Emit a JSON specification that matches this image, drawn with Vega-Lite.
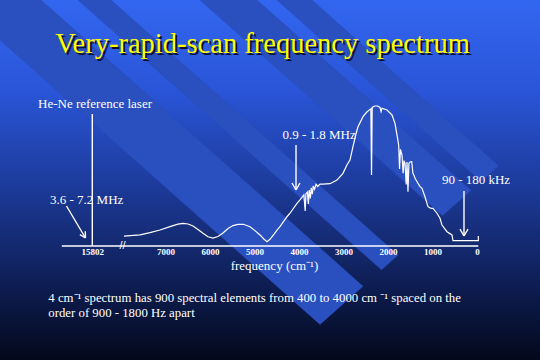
{
  "$schema": "https://vega.github.io/schema/vega-lite/v6.json",
  "width": 540,
  "height": 360,
  "autosize": "none",
  "padding": 0,
  "background": "#10205a",
  "config": {"view": {"stroke": null}},
  "datasets": {
    "spectrum": [
      {"i":0,"f":7933,"I":0.071},{"i":1,"f":7573,"I":0.079},{"i":2,"f":7348,"I":0.095},{"i":3,"f":7124,"I":0.114},
      {"i":4,"f":6899,"I":0.138},{"i":5,"f":6720,"I":0.156},{"i":6,"f":6607,"I":0.162},{"i":7,"f":6494,"I":0.157},
      {"i":8,"f":6382,"I":0.143},{"i":9,"f":6270,"I":0.118},{"i":10,"f":6157,"I":0.091},{"i":11,"f":6045,"I":0.066},
      {"i":12,"f":5933,"I":0.057},{"i":13,"f":5820,"I":0.068},{"i":14,"f":5708,"I":0.093},{"i":15,"f":5595,"I":0.125},
      {"i":16,"f":5483,"I":0.146},{"i":17,"f":5370,"I":0.155},{"i":18,"f":5250,"I":0.155},{"i":19,"f":5101,"I":0.138},
      {"i":20,"f":4990,"I":0.110},{"i":21,"f":4876,"I":0.079},{"i":22,"f":4790,"I":0.050},{"i":23,"f":4719,"I":0.031},
      {"i":24,"f":4652,"I":0.048},{"i":25,"f":4560,"I":0.085},{"i":26,"f":4494,"I":0.114},{"i":27,"f":4427,"I":0.138},
      {"i":28,"f":4270,"I":0.209},{"i":29,"f":4202,"I":0.234},{"i":30,"f":4045,"I":0.305},{"i":31,"f":3978,"I":0.329},
      {"i":32,"f":3920,"I":0.352},{"i":33,"f":3890,"I":0.365},{"i":34,"f":3860,"I":0.250},{"i":35,"f":3845,"I":0.372},
      {"i":36,"f":3810,"I":0.385},{"i":37,"f":3790,"I":0.300},{"i":38,"f":3770,"I":0.400},{"i":39,"f":3745,"I":0.340},
      {"i":40,"f":3725,"I":0.415},{"i":41,"f":3700,"I":0.370},{"i":42,"f":3680,"I":0.428},{"i":43,"f":3650,"I":0.405},
      {"i":44,"f":3618,"I":0.440},{"i":45,"f":3580,"I":0.425},{"i":46,"f":3528,"I":0.442},{"i":47,"f":3461,"I":0.442},
      {"i":48,"f":3303,"I":0.445},{"i":49,"f":3146,"I":0.471},{"i":50,"f":3011,"I":0.519},{"i":51,"f":2921,"I":0.580},
      {"i":52,"f":2854,"I":0.614},{"i":53,"f":2787,"I":0.709},{"i":54,"f":2720,"I":0.800},{"i":55,"f":2674,"I":0.852},
      {"i":56,"f":2562,"I":0.924},{"i":57,"f":2480,"I":0.955},{"i":58,"f":2404,"I":0.976},{"i":59,"f":2385,"I":0.980},
      {"i":60,"f":2370,"I":0.507},{"i":61,"f":2355,"I":0.990},{"i":62,"f":2300,"I":1.000},{"i":63,"f":2230,"I":1.000},
      {"i":64,"f":2180,"I":0.990},{"i":65,"f":2155,"I":0.960},{"i":66,"f":2135,"I":0.984},{"i":67,"f":2022,"I":0.971},
      {"i":68,"f":1910,"I":0.936},{"i":69,"f":1843,"I":0.876},{"i":70,"f":1790,"I":0.780},{"i":71,"f":1760,"I":0.720},
      {"i":72,"f":1740,"I":0.550},{"i":73,"f":1720,"I":0.690},{"i":74,"f":1685,"I":0.650},{"i":75,"f":1660,"I":0.520},
      {"i":76,"f":1640,"I":0.610},{"i":77,"f":1618,"I":0.591},{"i":78,"f":1590,"I":0.440},{"i":79,"f":1573,"I":0.600},
      {"i":80,"f":1551,"I":0.388},{"i":81,"f":1530,"I":0.590},{"i":82,"f":1506,"I":0.600},{"i":83,"f":1467,"I":0.602},
      {"i":84,"f":1440,"I":0.520},{"i":85,"f":1410,"I":0.500},{"i":86,"f":1393,"I":0.484},{"i":87,"f":1326,"I":0.448},
      {"i":88,"f":1281,"I":0.424},{"i":89,"f":1236,"I":0.412},{"i":90,"f":1169,"I":0.352},{"i":91,"f":1101,"I":0.281},
      {"i":92,"f":1034,"I":0.269},{"i":93,"f":989,"I":0.269},{"i":94,"f":899,"I":0.234},{"i":95,"f":831,"I":0.198},
      {"i":96,"f":787,"I":0.150},{"i":97,"f":674,"I":0.102},{"i":98,"f":562,"I":0.079},{"i":99,"f":539,"I":0.038},
      {"i":100,"f":-30,"I":0.038},{"i":101,"f":-30,"I":0.071}
    ],
    "stripes": [
      {"s":1,"v":0,"f":10921,"I":2.074},{"s":1,"v":1,"f":2562,"I":-0.2872},{"s":1,"v":2,"f":3528,"I":-0.56},{"s":1,"v":3,"f":12854,"I":2.074},
      {"s":2,"v":0,"f":9348,"I":2.074},{"s":2,"v":1,"f":1775,"I":-0.065},{"s":2,"v":2,"f":2146,"I":-0.17},{"s":2,"v":3,"f":10090,"I":2.074},
      {"s":3,"v":0,"f":6067,"I":2.074},{"s":3,"v":1,"f":135,"I":0.3985},{"s":3,"v":2,"f":775,"I":0.2171},{"s":3,"v":3,"f":7348,"I":2.074},
      {"s":4,"v":0,"f":4831,"I":2.074},{"s":4,"v":1,"f":-483,"I":0.5728},{"s":4,"v":2,"f":-90,"I":0.4621},{"s":4,"v":3,"f":5618,"I":2.074}
    ],
    "segments": [
      {"f":9330,"I":0,"f2":-30,"I2":0},
      {"f":8645,"I":0,"f2":8645,"I2":0.943},
      {"f":9225,"I":0.2857,"f2":8798,"I2":0.0571},
      {"f":8798,"I":0.0571,"f2":8802,"I2":0.105},
      {"f":8798,"I":0.0571,"f2":8924,"I2":0.0814},
      {"f":4067,"I":0.721,"f2":4067,"I2":0.4},
      {"f":4067,"I":0.4,"f2":4157,"I2":0.45},
      {"f":4067,"I":0.4,"f2":3978,"I2":0.45},
      {"f":292,"I":0.393,"f2":292,"I2":0.0714},
      {"f":292,"I":0.0714,"f2":382,"I2":0.121},
      {"f":292,"I":0.0714,"f2":202,"I2":0.121}
    ],
    "heading": [{"f":4820,"I":1.3764,"text":"Very-rapid-scan frequency spectrum"}],
    "notes": [
      {"f":8771,"I":0.3,"text":"3.6 - 7.2 MHz"},
      {"f":3550,"I":0.7607,"text":"0.9 - 1.8 MHz"},
      {"f":22,"I":0.4429,"text":"90 - 180 kHz"}
    ],
    "laser": [{"f":9865,"I":0.9857,"text":"He-Ne reference laser"}],
    "footnote": [
      {"f":9634,"I":-0.3979,"text":"4 cm⁻¹ spectrum has 900 spectral elements from 400 to 4000 cm ⁻¹ spaced on the"},
      {"f":9634,"I":-0.5093,"text":"order of 900 - 1800 Hz apart"}
    ],
    "brk": [{"f":7966,"I":0,"text":"//"}]
  },
  "layer": [
    {
      "data": {"values": [{}]},
      "mark": {"type": "rect", "fill": {"gradient": "linear", "x1": 0, "y1": 0, "x2": 0, "y2": 1,
        "stops": [
          {"offset": 0, "color": "#3366f0"},
          {"offset": 0.25, "color": "#2a55d8"},
          {"offset": 0.5, "color": "#1d3c9e"},
          {"offset": 0.75, "color": "#10225e"},
          {"offset": 1, "color": "#03081a"}
        ]}},
      "encoding": {}
    },
    {
      "data": {"name": "stripes"},
      "mark": {"type": "line", "fill": "#2a4fbf", "stroke": "#2a4fbf", "strokeWidth": 0.5, "clip": true},
      "encoding": {
        "x": {"field": "f", "type": "quantitative", "scale": {"domain": [-1416, 10719], "reverse": true, "nice": false, "zero": false},
          "axis": {"offset": -114, "zindex": 2, "domain": false, "ticks": false, "grid": false,
            "values": [8645, 7000, 6000, 5000, 4000, 3000, 2000, 1000, 0], "format": "d",
            "labelExpr": "datum.value > 8000 ? '15802' : datum.label",
            "labelColor": "white", "labelFont": "Liberation Serif", "labelFontSize": 9, "labelFontWeight": "bold",
            "labelPadding": 1, "labelFlush": false, "labelOverlap": false, "labelBound": false,
            "title": "frequency (cm⁻¹)", "titleColor": "white", "titleFont": "Liberation Serif", "titleFontSize": 13,
            "titleFontWeight": "normal", "titlePadding": 3, "titleX": 274}},
        "y": {"field": "I", "type": "quantitative", "scale": {"domain": [-0.8143, 1.7571], "nice": false, "zero": false}, "axis": null},
        "detail": {"field": "s", "type": "nominal"},
        "order": {"field": "v", "type": "quantitative"}
      }
    },
    {
      "data": {"name": "spectrum"},
      "mark": {"type": "line", "color": "white", "strokeWidth": 1.2},
      "encoding": {
        "x": {"field": "f", "type": "quantitative", "scale": {"domain": [-1416, 10719], "reverse": true, "nice": false, "zero": false}},
        "y": {"field": "I", "type": "quantitative", "scale": {"domain": [-0.8143, 1.7571], "nice": false, "zero": false}, "axis": null},
        "order": {"field": "i", "type": "quantitative"}
      }
    },
    {
      "data": {"name": "segments"},
      "mark": {"type": "rule", "color": "white", "strokeWidth": 1.4},
      "encoding": {
        "x": {"field": "f", "type": "quantitative", "scale": {"domain": [-1416, 10719], "reverse": true, "nice": false, "zero": false}},
        "x2": {"field": "f2"},
        "y": {"field": "I", "type": "quantitative", "scale": {"domain": [-0.8143, 1.7571], "nice": false, "zero": false}, "axis": null},
        "y2": {"field": "I2"}
      }
    },
    {
      "data": {"name": "heading"},
      "mark": {"type": "text", "font": "Liberation Serif", "fontSize": 28.5, "align": "center", "baseline": "alphabetic", "color": "#0a0f30", "dx": 2, "dy": 2},
      "encoding": {
        "x": {"field": "f", "type": "quantitative", "scale": {"domain": [-1416, 10719], "reverse": true, "nice": false, "zero": false}},
        "y": {"field": "I", "type": "quantitative", "scale": {"domain": [-0.8143, 1.7571], "nice": false, "zero": false}, "axis": null},
        "text": {"field": "text"}
      }
    },
    {
      "data": {"name": "heading"},
      "mark": {"type": "text", "font": "Liberation Serif", "fontSize": 28.5, "align": "center", "baseline": "alphabetic", "color": "#ffff00"},
      "encoding": {
        "x": {"field": "f", "type": "quantitative", "scale": {"domain": [-1416, 10719], "reverse": true, "nice": false, "zero": false}},
        "y": {"field": "I", "type": "quantitative", "scale": {"domain": [-0.8143, 1.7571], "nice": false, "zero": false}, "axis": null},
        "text": {"field": "text"}
      }
    },
    {
      "data": {"name": "notes"},
      "mark": {"type": "text", "font": "Liberation Serif", "fontSize": 13, "align": "center", "baseline": "alphabetic", "color": "white"},
      "encoding": {
        "x": {"field": "f", "type": "quantitative", "scale": {"domain": [-1416, 10719], "reverse": true, "nice": false, "zero": false}},
        "y": {"field": "I", "type": "quantitative", "scale": {"domain": [-0.8143, 1.7571], "nice": false, "zero": false}, "axis": null},
        "text": {"field": "text"}
      }
    },
    {
      "data": {"name": "laser"},
      "mark": {"type": "text", "font": "Liberation Serif", "fontSize": 13, "align": "left", "baseline": "alphabetic", "color": "white"},
      "encoding": {
        "x": {"field": "f", "type": "quantitative", "scale": {"domain": [-1416, 10719], "reverse": true, "nice": false, "zero": false}},
        "y": {"field": "I", "type": "quantitative", "scale": {"domain": [-0.8143, 1.7571], "nice": false, "zero": false}, "axis": null},
        "text": {"field": "text"}
      }
    },
    {
      "data": {"name": "footnote"},
      "mark": {"type": "text", "font": "Liberation Serif", "fontSize": 12.8, "align": "left", "baseline": "alphabetic", "color": "white"},
      "encoding": {
        "x": {"field": "f", "type": "quantitative", "scale": {"domain": [-1416, 10719], "reverse": true, "nice": false, "zero": false}},
        "y": {"field": "I", "type": "quantitative", "scale": {"domain": [-0.8143, 1.7571], "nice": false, "zero": false}, "axis": null},
        "text": {"field": "text"}
      }
    },
    {
      "data": {"name": "brk"},
      "mark": {"type": "text", "font": "Liberation Sans", "fontSize": 11, "align": "center", "baseline": "middle", "color": "white"},
      "encoding": {
        "x": {"field": "f", "type": "quantitative", "scale": {"domain": [-1416, 10719], "reverse": true, "nice": false, "zero": false}},
        "y": {"field": "I", "type": "quantitative", "scale": {"domain": [-0.8143, 1.7571], "nice": false, "zero": false}, "axis": null},
        "text": {"field": "text"}
      }
    }
  ]
}
